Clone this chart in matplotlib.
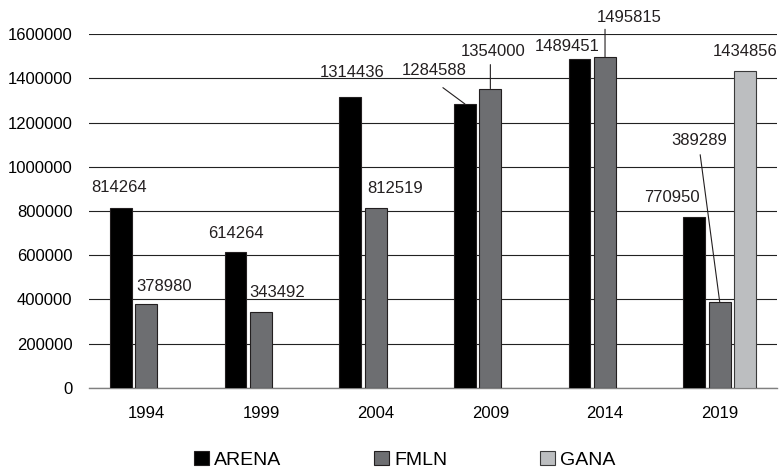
import matplotlib
matplotlib.use('Agg')
import matplotlib.pyplot as plt
import numpy as np

# data
years = ['1994', '1999', '2004', '2009', '2014', '2019']
arena = [814264, 614264, 1314436, 1284588, 1489451, 770950]
fmln = [378980, 343492, 812519, 1354000, 1495815, 389289]
gana = [None, None, None, None, None, 1434856]

plt.rcParams['font.family'] = ['Liberation Sans', 'DejaVu Sans']

fig = plt.figure(figsize=(7.81, 4.69), dpi=100)
ax = fig.add_axes([0.114, 0.1733, 0.8809, 0.7536])

x = np.arange(len(years))
off = 0.222
w = 0.19
edge = '#231f20'
b_arena = ax.bar(x - off, arena, w, color='#000000', edgecolor=edge, linewidth=0.8, zorder=3, label='ARENA')
b_fmln = ax.bar(x, fmln, w, color='#6d6e71', edgecolor=edge, linewidth=0.8, zorder=3, label='FMLN')
gx = [x[i] + off for i, v in enumerate(gana) if v is not None]
gv = [v for v in gana if v is not None]
b_gana = ax.bar(gx, gv, w, color='#bcbec0', edgecolor='#3a3a3a', linewidth=0.8, zorder=3, label='GANA')

ax.set_xlim(-0.5, len(years) - 0.5)
ax.set_ylim(0, 1600000)
ax.set_yticks(np.arange(0, 1600001, 200000))
ax.set_yticklabels([str(v) for v in range(0, 1600001, 200000)])
ax.set_xticks(x)
ax.set_xticklabels(years)
ax.tick_params(axis='y', length=0, pad=12, labelsize=12)
ax.tick_params(axis='x', length=0, pad=13, labelsize=12)
for s in ['top', 'right', 'left']:
    ax.spines[s].set_visible(False)
ax.spines['bottom'].set_color('#808080')
ax.spines['bottom'].set_linewidth(1.0)
ax.yaxis.grid(True, color='#222222', linewidth=0.8, zorder=0)
ax.set_axisbelow(True)

# label offsets in pixels (dx, dy) from bar top centre
px = 0.72
arena_off = [(-1.5, 20), (0, 19), (2, 25), (-31, 33), (-12.5, 12), (-22, 20)]
fmln_off = [(18, 18), (16.5, 19), (19, 20), (3, 37), (24, 39.5), (-20.5, 161)]
gana_off = {5: (0, 19)}

def put(xv, val, d):
    ax.annotate(str(val), xy=(xv, val), xytext=(d[0] * px, d[1] * px),
                textcoords='offset points', ha='center', va='center',
                fontsize=12, color='#231f20', zorder=5)

for i in range(len(years)):
    put(x[i] - off, arena[i], arena_off[i])
    put(x[i], fmln[i], fmln_off[i])
    if gana[i] is not None:
        put(x[i] + off, gana[i], gana_off[i])

# leader lines (start offset in px from bar top)
leaders = [(x[3] - off, arena[3], (-22, 16.3)),
           (x[3], fmln[3], (0, 24)),
           (x[4], fmln[4], (0, 28)),
           (x[5], fmln[5], (-19.5, 147))]
for xv, val, d in leaders:
    ax.annotate('', xy=(xv, val), xytext=(d[0] * px, d[1] * px),
                textcoords='offset points',
                arrowprops=dict(arrowstyle='-', color='#231f20', lw=0.8,
                                shrinkA=0, shrinkB=0), zorder=5)

fig.legend(handles=[b_arena, b_fmln, b_gana], labels=['ARENA', 'FMLN', 'GANA'],
           loc='center', bbox_to_anchor=(0.518, 0.02), ncol=3, frameon=False,
           fontsize=14, handlelength=0.8, handleheight=0.8, handletextpad=0.25,
           columnspacing=4.75)

fig.savefig('out.png', dpi=100)
